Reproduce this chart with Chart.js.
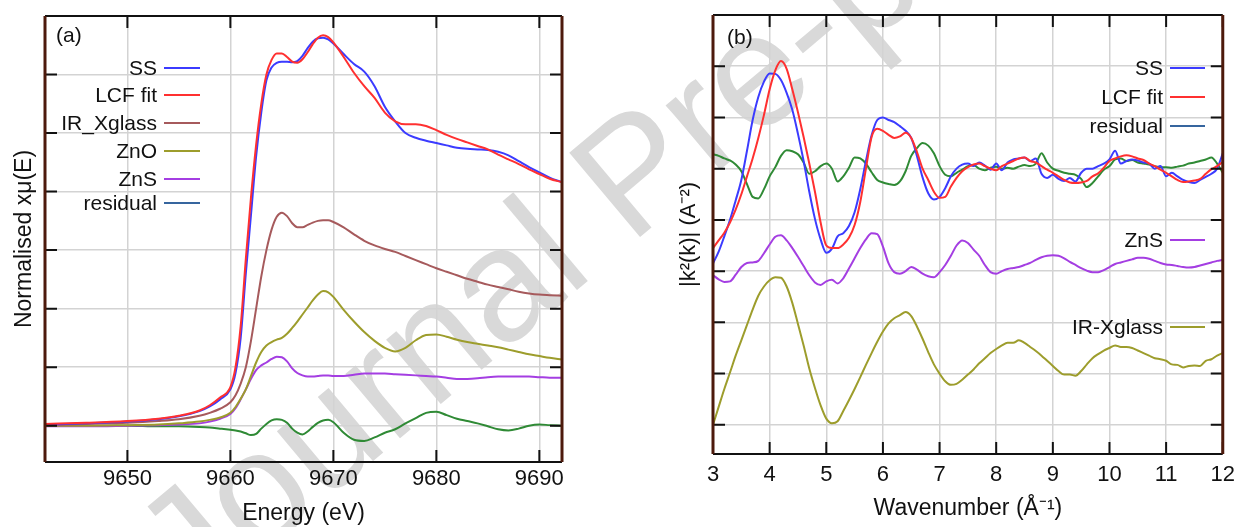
<!DOCTYPE html>
<html>
<head>
<meta charset="utf-8">
<script src="https://cdn.jsdelivr.net/npm/chart.js@4.4.1/dist/chart.umd.min.js"></script>
<style>
    html, body { margin: 0; padding: 0; background: #fff; }
    #page { position: relative; width: 1243px; height: 527px; overflow: hidden; }
    #watermark {
        position: absolute; left: 632px; top: 172px;
        transform: translate(-50%, -50%) rotate(-40deg);
        font: 160px 'Liberation Sans', Arial, sans-serif;
        color: #d9d9d9; white-space: nowrap; line-height: 1;
    }
    #chartA { position: absolute; left: 0; top: 0; }
    #chartB { position: absolute; left: 640px; top: 0; }
</style>
</head>
<body>
<div id="page">
    <div id="watermark">Journal Pre-proof</div>
    <canvas id="chartA" width="590" height="527"></canvas>
    <canvas id="chartB" width="603" height="527"></canvas>
</div>
<script>
// ---- panel (a): XANES ----
const energyA = [9642, 9646, 9650, 9653, 9655, 9657, 9658, 9659, 9660, 9660.5, 9661, 9661.5, 9662, 9662.5, 9663, 9663.5, 9664, 9664.5,
    9665, 9665.5, 9666, 9666.5, 9667, 9667.5, 9668, 9668.5, 9669, 9669.5, 9670, 9671, 9672, 9673, 9674, 9675, 9676, 9677, 9678, 9679,
    9680, 9681, 9682, 9683, 9684, 9685, 9686, 9687, 9688, 9689, 9690, 9691, 9692.2];
const ssA = [0.02, 0.04, 0.07, 0.11, 0.16, 0.25, 0.33, 0.45, 0.62, 0.9, 1.5, 2.6, 3.6, 4.6, 5.35, 5.9, 6.12, 6.2,
    6.22, 6.22, 6.21, 6.23, 6.32, 6.45, 6.56, 6.62, 6.63, 6.6, 6.53, 6.35, 6.18, 6.05, 5.8, 5.45, 5.2, 5.0, 4.92, 4.87,
    4.83, 4.79, 4.75, 4.73, 4.72, 4.71, 4.68, 4.62, 4.52, 4.42, 4.33, 4.24, 4.16];
const lcfA = [0.03, 0.05, 0.08, 0.12, 0.17, 0.26, 0.35, 0.48, 0.66, 1.0, 1.7, 2.85, 3.9, 4.8, 5.5, 6.0, 6.25, 6.36,
    6.36, 6.3, 6.22, 6.2, 6.26, 6.38, 6.52, 6.63, 6.67, 6.64, 6.55, 6.3, 6.03, 5.8, 5.6, 5.35, 5.2, 5.15, 5.15, 5.12,
    5.05, 4.97, 4.9, 4.84, 4.78, 4.72, 4.63, 4.55, 4.47, 4.38, 4.3, 4.22, 4.16];
const irXglassA = [0.01, 0.03, 0.05, 0.08, 0.11, 0.17, 0.22, 0.29, 0.4, 0.52, 0.72, 1.0, 1.45, 2.0, 2.55, 3.0, 3.35, 3.57,
    3.64, 3.58, 3.46, 3.39, 3.39, 3.43, 3.47, 3.5, 3.51, 3.51, 3.48, 3.39, 3.27, 3.16, 3.08, 3.02, 2.97, 2.9, 2.83, 2.76,
    2.69, 2.63, 2.57, 2.51, 2.46, 2.41, 2.37, 2.33, 2.29, 2.26, 2.24, 2.23, 2.22];
const znoA = [0.0, 0.0, 0.01, 0.02, 0.04, 0.07, 0.1, 0.14, 0.22, 0.32, 0.46, 0.62, 0.85, 1.08, 1.26, 1.37, 1.43, 1.47,
    1.5, 1.57, 1.67, 1.78, 1.9, 2.02, 2.14, 2.24, 2.3, 2.28, 2.2, 1.98, 1.78, 1.6, 1.45, 1.33, 1.27, 1.33, 1.46, 1.55,
    1.56, 1.52, 1.47, 1.43, 1.4, 1.37, 1.34, 1.3, 1.26, 1.22, 1.19, 1.16, 1.13];
const znsA = [-0.01, -0.01, 0.0, 0.01, 0.02, 0.04, 0.07, 0.12, 0.2, 0.3, 0.45, 0.62, 0.8, 0.95, 1.03, 1.08, 1.14, 1.18,
    1.17, 1.1, 0.98, 0.9, 0.86, 0.84, 0.84, 0.85, 0.86, 0.86, 0.85, 0.85, 0.87, 0.89, 0.89, 0.89, 0.88, 0.87, 0.86, 0.85,
    0.84, 0.82, 0.8, 0.8, 0.81, 0.83, 0.84, 0.84, 0.84, 0.84, 0.83, 0.82, 0.82];
const residualA = [0.0, 0.0, 0.0, -0.01, -0.01, -0.02, -0.03, -0.05, -0.07, -0.08, -0.1, -0.13, -0.16, -0.14, -0.05, 0.03, 0.09, 0.11,
    0.1, 0.05, -0.05, -0.12, -0.15, -0.1, -0.02, 0.05, 0.09, 0.1, 0.06, -0.12, -0.24, -0.26, -0.2, -0.12, -0.06, 0.04, 0.13, 0.22,
    0.24, 0.18, 0.12, 0.08, 0.04, -0.01, -0.06, -0.08, -0.05, 0.0, 0.02, 0.01, 0.0];
const energyTicksA = [9650, 9660, 9670, 9680, 9690];
const gridA = [0, 1, 2, 3, 4, 5, 6, 7];

// ---- panel (b): EXAFS ----
const kB = [3.0, 3.1, 3.2, 3.3, 3.4, 3.5, 3.6, 3.7, 3.8, 3.9, 4.0, 4.1, 4.2, 4.3, 4.4, 4.5, 4.6, 4.7, 4.8, 4.9,
    5.0, 5.1, 5.2, 5.3, 5.4, 5.5, 5.6, 5.7, 5.8, 5.9, 6.0, 6.1, 6.2, 6.3, 6.4, 6.5, 6.6, 6.7, 6.8, 6.9,
    7.0, 7.1, 7.2, 7.3, 7.4, 7.5, 7.6, 7.7, 7.8, 7.9, 8.0, 8.1, 8.2, 8.3, 8.4, 8.5, 8.6, 8.7, 8.8, 8.9,
    9.0, 9.1, 9.2, 9.3, 9.4, 9.5, 9.6, 9.7, 9.8, 9.9, 10.0, 10.1, 10.2, 10.3, 10.4, 10.5, 10.6, 10.7, 10.8, 10.9,
    11.0, 11.1, 11.2, 11.3, 11.4, 11.5, 11.6, 11.7, 11.8, 11.9, 12.0];
const ssB = [3.15, 3.38, 3.68, 4.0, 4.38, 4.78, 5.35, 5.95, 6.4, 6.7, 6.86, 6.85, 6.73, 6.48, 6.15, 5.68, 5.15, 4.55, 4.02, 3.62,
    3.36, 3.44, 3.68, 3.74, 3.88, 4.15, 4.6, 5.15, 5.65, 5.95, 6.0, 5.95, 5.91, 5.83, 5.74, 5.6, 5.25, 4.83, 4.52, 4.4,
    4.45, 4.62, 4.85, 5.0, 5.08, 5.1, 5.05, 5.12, 5.06, 4.98, 5.1, 4.97, 5.12, 5.18, 5.2, 5.22, 5.15, 5.2, 4.9, 4.82,
    4.88, 4.8, 4.76, 4.82, 4.75, 4.92, 5.0, 5.0, 5.05, 5.1, 5.18, 5.35, 5.1, 5.15, 5.18, 5.16, 5.12, 5.1, 5.0, 5.05,
    4.85, 4.92, 4.85, 4.78, 4.74, 4.72, 4.78, 4.84, 4.9, 5.0, 5.3];
const lcfB = [3.45, 3.6, 3.75, 3.95, 4.2, 4.5, 4.85, 5.2, 5.6, 6.05, 6.55, 6.92, 7.1, 6.95, 6.55, 6.1, 5.62, 5.1, 4.55, 3.95,
    3.5, 3.45, 3.45, 3.52, 3.65, 3.9, 4.35, 5.0, 5.62, 5.78, 5.74, 5.66, 5.6, 5.63, 5.7, 5.6, 5.33, 5.0, 4.78, 4.55,
    4.43, 4.45, 4.65, 4.82, 4.95, 5.03, 5.08, 5.1, 5.05, 5.0, 4.97, 5.05, 5.1, 5.15, 5.2, 5.22, 5.15, 5.12, 5.05, 4.98,
    4.92, 4.85, 4.78, 4.73, 4.72, 4.73, 4.76, 4.85, 4.91, 5.02, 5.15, 5.2, 5.24, 5.26, 5.24, 5.2, 5.17, 5.1, 5.05, 4.98,
    4.92, 4.85, 4.78, 4.74, 4.75, 4.77, 4.8, 4.9, 4.99, 5.05, 5.13];
const residualB = [5.28, 5.25, 5.2, 5.16, 5.08, 4.95, 4.7, 4.45, 4.42, 4.6, 4.85, 5.03, 5.25, 5.36, 5.34, 5.28, 5.12, 4.9, 4.95, 5.05,
    5.1, 5.0, 4.75, 4.85, 5.02, 5.22, 5.2, 5.1, 4.93, 4.78, 4.73, 4.7, 4.68, 4.75, 4.95, 5.25, 5.4, 5.5, 5.45, 5.3,
    5.05, 4.88, 4.85, 4.92, 4.98, 5.05, 5.07, 5.0, 4.97, 5.02, 5.04, 5.0, 5.02, 5.0, 5.04, 5.07, 5.05, 5.1, 5.3, 5.12,
    5.0, 4.96, 4.92, 4.9, 4.88, 4.8, 4.64, 4.72, 4.85, 4.98, 5.05, 5.18, 5.2, 5.15, 5.17, 5.12, 5.1, 5.08, 5.05, 5.03,
    5.03, 5.02, 5.04, 5.06, 5.1, 5.12, 5.15, 5.18, 5.22, 5.1, 4.92];
const znsB = [2.92, 2.84, 2.79, 2.8, 2.93, 3.08, 3.16, 3.17, 3.2, 3.35, 3.52, 3.67, 3.7, 3.6, 3.45, 3.28, 3.1, 2.92, 2.78, 2.73,
    2.8, 2.83, 2.76, 2.86, 3.05, 3.25, 3.45, 3.62, 3.74, 3.72, 3.48, 3.15, 2.98, 2.95, 3.0, 3.08, 3.03, 2.95, 2.9, 2.88,
    2.98, 3.12, 3.3, 3.5, 3.6, 3.55, 3.42, 3.3, 3.12, 2.98, 2.95, 3.0, 3.04, 3.06, 3.08, 3.12, 3.16, 3.22, 3.27, 3.3,
    3.31, 3.3, 3.25, 3.18, 3.12, 3.06, 3.01, 2.98, 2.98, 3.02, 3.08, 3.14, 3.17, 3.2, 3.23, 3.26, 3.26, 3.24, 3.2, 3.16,
    3.13, 3.12, 3.1, 3.08, 3.07, 3.08, 3.11, 3.14, 3.17, 3.2, 3.22];
const irXglassB = [0.0, 0.35, 0.7, 1.02, 1.35, 1.65, 1.95, 2.25, 2.52, 2.7, 2.82, 2.88, 2.87, 2.7, 2.38, 1.97, 1.55, 1.1, 0.72, 0.38,
    0.12, 0.03, 0.07, 0.27, 0.48, 0.7, 0.93, 1.17, 1.4, 1.62, 1.82, 1.98, 2.08, 2.14, 2.2, 2.12, 1.92, 1.68, 1.42, 1.18,
    1.0, 0.85, 0.78, 0.8, 0.88, 0.98, 1.08, 1.2, 1.3, 1.4, 1.48, 1.55, 1.6, 1.6, 1.65, 1.6, 1.52, 1.44, 1.35, 1.25,
    1.15, 1.05, 0.98, 0.98, 0.96, 1.05, 1.18, 1.3, 1.38, 1.45, 1.5, 1.55, 1.52, 1.52, 1.5, 1.45, 1.4, 1.35, 1.3, 1.28,
    1.25, 1.18, 1.17, 1.12, 1.15, 1.16, 1.15, 1.25, 1.28, 1.35, 1.4];
const kTicksB = [3, 4, 5, 6, 7, 8, 9, 10, 11, 12];
const gridB = [0, 1, 2, 3, 4, 5, 6, 7, 8];

const FONT = "'Liberation Sans', Arial, Helvetica, sans-serif";
Chart.defaults.font.family = FONT;
Chart.defaults.color = '#111';

const COLORS = {
    ss: '#3b3bff',
    lcf: '#ff3030',
    irx: '#a65a5c',
    zno: '#9d9d2c',
    zns: '#a43ee2',
    resid: '#2f8a35',
    residKey: '#36659e'
};

function pts(xs, ys) {
    return xs.map((x, i) => ({ x: x, y: ys[i] }));
}

function curve(label, xs, ys, color) {
    return {
        label: label,
        data: pts(xs, ys),
        borderColor: color,
        backgroundColor: color,
        borderWidth: 2,
        pointRadius: 0,
        cubicInterpolationMode: 'monotone',
        fill: false
    };
}

// inward tick marks and frame, gnuplot style
const frameTicks = {
    id: 'frameTicks',
    afterDatasetsDraw(chart, args, opts) {
        const { ctx, chartArea: { left, right, top, bottom }, scales: { x, y } } = chart;
        const len = 12;
        ctx.save();
        ctx.strokeStyle = '#111';
        ctx.lineWidth = 2;
        ctx.beginPath();
        x.ticks.forEach(t => {
            const px = x.getPixelForValue(t.value);
            ctx.moveTo(px, top); ctx.lineTo(px, top + len);
            ctx.moveTo(px, bottom); ctx.lineTo(px, bottom - len);
        });
        y.ticks.forEach(t => {
            const py = y.getPixelForValue(t.value);
            if (py <= top + 2) return;
            ctx.moveTo(left, py); ctx.lineTo(left + len, py);
            ctx.moveTo(right, py); ctx.lineTo(right - len, py);
        });
        ctx.moveTo(left, top); ctx.lineTo(right, top);
        ctx.moveTo(left, bottom); ctx.lineTo(right, bottom);
        ctx.stroke();
        ctx.strokeStyle = '#4d1a0c';
        ctx.lineWidth = 3;
        ctx.beginPath();
        ctx.moveTo(left, top); ctx.lineTo(left, bottom);
        ctx.moveTo(right, top); ctx.lineTo(right, bottom);
        ctx.stroke();
        ctx.restore();
    }
};

// key text on the left of a short line sample, plus the panel tag
const keyLabels = {
    id: 'keyLabels',
    afterDraw(chart, args, opts) {
        const ctx = chart.ctx;
        ctx.save();
        ctx.font = '21px ' + FONT;
        ctx.fillStyle = '#111';
        ctx.textBaseline = 'alphabetic';
        ctx.textAlign = 'left';
        ctx.fillText(opts.tag, opts.tagX, opts.tagY + 7);
        opts.items.forEach(it => {
            ctx.textAlign = 'right';
            ctx.fillText(it.text, opts.textRight, it.y + 7);
            ctx.strokeStyle = it.color;
            ctx.lineWidth = 2;
            ctx.beginPath();
            ctx.moveTo(opts.lineFrom, it.y);
            ctx.lineTo(opts.lineTo, it.y);
            ctx.stroke();
        });
        ctx.restore();
    }
};

function gridOpts() {
    return { color: '#d3d3d3', lineWidth: 1.5, drawTicks: false };
}

new Chart(document.getElementById('chartA'), {
    type: 'line',
    data: {
        datasets: [
            curve('LCF fit', energyA, lcfA, COLORS.lcf),
            curve('SS', energyA, ssA, COLORS.ss),
            curve('IR_Xglass', energyA, irXglassA, COLORS.irx),
            curve('ZnO', energyA, znoA, COLORS.zno),
            curve('ZnS', energyA, znsA, COLORS.zns),
            curve('residual', energyA, residualA, COLORS.resid)
        ]
    },
    options: {
        responsive: false,
        animation: false,
        layout: { padding: { top: 16, right: 28, left: 0, bottom: 0 } },
        plugins: {
            legend: { display: false },
            tooltip: { enabled: false },
            keyLabels: {
                tag: '(a)', tagX: 56, tagY: 35,
                textRight: 157, lineFrom: 164, lineTo: 200,
                items: [
                    { text: 'SS', y: 68, color: COLORS.ss },
                    { text: 'LCF fit', y: 95, color: COLORS.lcf },
                    { text: 'IR_Xglass', y: 123, color: COLORS.irx },
                    { text: 'ZnO', y: 151, color: COLORS.zno },
                    { text: 'ZnS', y: 179, color: COLORS.zns },
                    { text: 'residual', y: 203, color: COLORS.residKey }
                ]
            }
        },
        scales: {
            x: {
                type: 'linear',
                min: 9642,
                max: 9692.2,
                afterBuildTicks: scale => { scale.ticks = energyTicksA.map(v => ({ value: v })); },
                afterFit: scale => { scale.height = 65; },
                grid: gridOpts(),
                border: { display: false },
                ticks: {
                    autoSkip: false,
                    maxRotation: 0,
                    padding: 4,
                    font: { size: 22 },
                    callback: v => String(v)
                },
                title: {
                    display: true,
                    text: 'Energy (eV)',
                    font: { size: 23 },
                    padding: { top: 0, bottom: 0 }
                }
            },
            y: {
                min: -0.62,
                max: 7,
                afterBuildTicks: scale => { scale.ticks = gridA.map(v => ({ value: v })); },
                afterFit: scale => { scale.width = 45; },
                grid: gridOpts(),
                border: { display: false },
                ticks: { display: false },
                title: {
                    display: true,
                    text: 'Normalised xμ(E)',
                    font: { size: 23 },
                    padding: { top: 11, bottom: 0 }
                }
            }
        }
    },
    plugins: [frameTicks, keyLabels]
});

new Chart(document.getElementById('chartB'), {
    type: 'line',
    data: {
        datasets: [
            curve('LCF fit', kB, lcfB, COLORS.lcf),
            curve('SS', kB, ssB, COLORS.ss),
            curve('residual', kB, residualB, COLORS.resid),
            curve('ZnS', kB, znsB, COLORS.zns),
            curve('IR-Xglass', kB, irXglassB, COLORS.zno)
        ]
    },
    options: {
        responsive: false,
        animation: false,
        layout: { padding: { top: 15, right: 10, left: 0, bottom: 0 } },
        plugins: {
            legend: { display: false },
            tooltip: { enabled: false },
            keyLabels: {
                tag: '(b)', tagX: 87, tagY: 37,
                textRight: 523, lineFrom: 530, lineTo: 565,
                items: [
                    { text: 'SS', y: 68, color: COLORS.ss },
                    { text: 'LCF fit', y: 97, color: COLORS.lcf },
                    { text: 'residual', y: 126, color: COLORS.residKey },
                    { text: 'ZnS', y: 240, color: COLORS.zns },
                    { text: 'IR-Xglass', y: 327, color: COLORS.zno }
                ]
            }
        },
        scales: {
            x: {
                type: 'linear',
                min: 3,
                max: 12,
                afterBuildTicks: scale => { scale.ticks = kTicksB.map(v => ({ value: v })); },
                afterFit: scale => { scale.height = 73; },
                grid: gridOpts(),
                border: { display: false },
                ticks: {
                    autoSkip: false,
                    maxRotation: 0,
                    padding: 8,
                    font: { size: 22 },
                    callback: v => String(v)
                },
                title: {
                    display: true,
                    text: 'Wavenumber (Å⁻¹)',
                    font: { size: 23 },
                    padding: { top: 0, bottom: 5 }
                }
            },
            y: {
                min: -0.57,
                max: 8,
                afterBuildTicks: scale => { scale.ticks = gridB.map(v => ({ value: v })); },
                afterFit: scale => { scale.width = 73; },
                grid: gridOpts(),
                border: { display: false },
                ticks: { display: false },
                title: {
                    display: true,
                    text: '|k²(k)| (A⁻²)',
                    font: { size: 22 },
                    padding: { top: 36, bottom: 0 }
                }
            }
        }
    },
    plugins: [frameTicks, keyLabels]
});
</script>
</body>
</html>
